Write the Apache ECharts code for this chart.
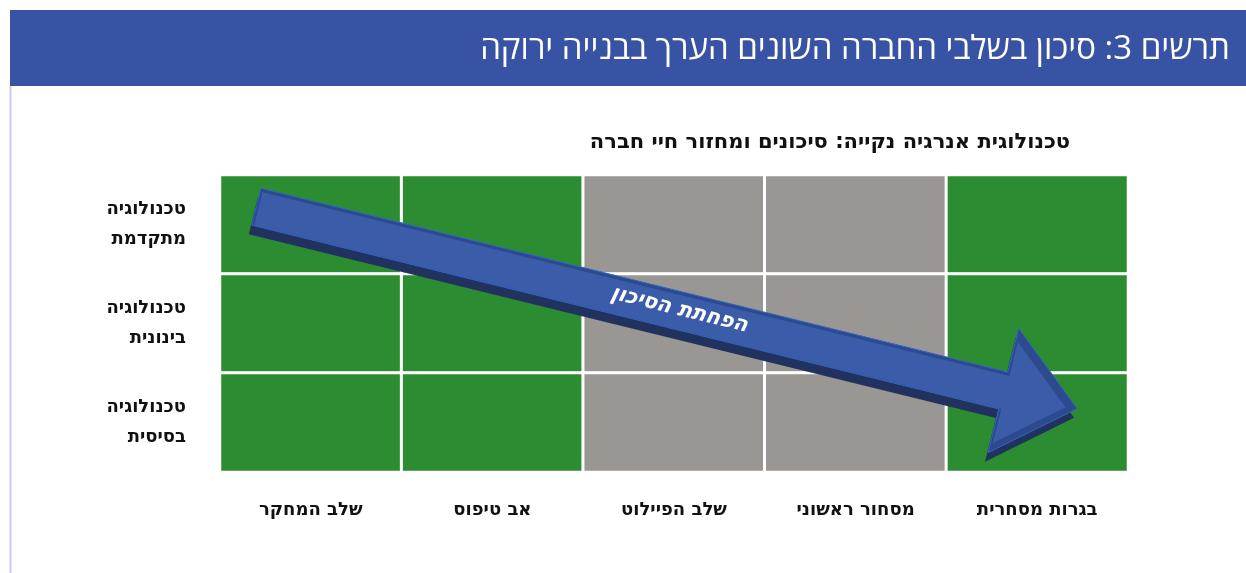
<!DOCTYPE html>
<html lang="he">
<head>
<meta charset="utf-8">
<script src="https://cdn.jsdelivr.net/npm/echarts@6/dist/echarts.min.js"></script>
<style>
html,body{margin:0;padding:0;background:#fff;}
#chart{width:1246px;height:573px;}
</style>
</head>
<body>
<div id="chart"></div>
<script>
// ---- data ----
const chartTitle = 'תרשים 3: סיכון בשלבי החברה השונים הערך בבנייה ירוקה';
const chartSubtitle = 'טכנולוגית אנרגיה נקייה: סיכונים ומחזור חיי חברה';
const stages = ['שלב המחקר', 'אב טיפוס', 'שלב הפיילוט', 'מסחור ראשוני', 'בגרות מסחרית'];
const techLevels = ['טכנולוגיה\nמתקדמת', 'טכנולוגיה\nבינונית', 'טכנולוגיה\nבסיסית'];
// 0 = green cell, 1 = grey cell (per row, per stage)
const rowAdvanced = [0, 0, 1, 1, 0];
const rowMedium   = [0, 0, 1, 1, 0];
const rowBasic    = [0, 0, 1, 1, 0];
const arrowLabel = 'הפחתת הסיכון';
// arrow from / to, in category-index units (x: stage, y: tech level)
const arrowFrom = [-0.30, -0.18];
const arrowTo   = [4.22, 1.86];

const rows = [rowAdvanced, rowMedium, rowBasic];
const cells = [];
rows.forEach((r, yi) => r.forEach((v, xi) => cells.push([xi, yi, v])));

const GREEN = '#2b8c31', GREY = '#9a9694';
const FONT = '"DejaVu Sans", "Liberation Sans", Arial, sans-serif';

const chart = echarts.init(document.getElementById('chart'), null, {renderer: 'canvas'});

function renderArrow(params, api) {
  const c0 = api.coord([0, 0]);
  const c1 = api.coord([1, 1]);
  const at = p => [c0[0] + p[0] * (c1[0] - c0[0]), c0[1] + p[1] * (c1[1] - c0[1])];
  const S = at(arrowFrom), T = at(arrowTo);
  const dx = T[0] - S[0], dy = T[1] - S[1];
  const len = Math.sqrt(dx * dx + dy * dy);
  const u = [dx / len, dy / len];
  const n = [-u[1], u[0]];
  const w = 19, H = 64, L = 76;
  const B = [T[0] - u[0] * L, T[1] - u[1] * L];
  const P = (base, k) => [base[0] + n[0] * k, base[1] + n[1] * k];
  const shape = (off, ww, hh, tipBack) => {
    const Tt = [T[0] - u[0] * tipBack, T[1] - u[1] * tipBack];
    const pts = [P(S, -ww), P(B, -ww), P(B, -hh), Tt, P(B, hh), P(B, ww), P(S, ww)];
    return pts.map(p => [p[0] + off[0], p[1] + off[1]]);
  };
  const mid = [S[0] + dx * 0.515 - n[0] * 1, S[1] + dy * 0.515 - n[1] * 1];
  return {
    type: 'group',
    children: [
      {type: 'polygon', shape: {points: shape([-3, 9], w, H, 0)}, style: {fill: '#22325f'}},
      {type: 'polygon', shape: {points: shape([0, 0], w, H, 0)}, style: {fill: '#2d4a8e', stroke: '#2f66c4', lineWidth: 1}},
      {type: 'polygon', shape: {points: shape([2, 2], w - 2, H - 12, 14)}, style: {fill: '#3b5ca9'}},
      {type: 'text', x: mid[0], y: mid[1], rotation: -Math.atan2(dy, dx),
        style: {text: arrowLabel, fill: '#ffffff', font: 'italic bold 21px ' + FONT, align: 'center', verticalAlign: 'middle'}}
    ]
  };
}

const option = {
  backgroundColor: '#ffffff',
  animation: false,
  graphic: [
    {type: 'rect', shape: {x: 10, y: 10, width: 1236, height: 76}, style: {fill: '#3953a4'}, z: 0},
    {type: 'line', shape: {x1: 10.5, y1: 86, x2: 10.5, y2: 573}, style: {stroke: '#c9cce6', lineWidth: 2}},
    {type: 'text', x: 1230, y: 50, style: {text: chartTitle, fill: '#ffffff', font: '33px "Open Sans", "Liberation Sans", sans-serif', align: 'right', verticalAlign: 'middle'}, z: 5},
    {type: 'text', x: 830, y: 143, style: {text: chartSubtitle, fill: '#111111', font: 'bold 21px ' + FONT, align: 'center', verticalAlign: 'middle'}}
  ],
  grid: {left: 220, right: 118, top: 175, bottom: 101},
  xAxis: {
    type: 'category', data: stages,
    axisLine: {show: false}, axisTick: {show: false}, splitLine: {show: false},
    axisLabel: {margin: 29, color: '#111', fontSize: 18, fontWeight: 'bold', fontFamily: FONT}
  },
  yAxis: {
    type: 'category', data: techLevels, inverse: true,
    axisLine: {show: false}, axisTick: {show: false}, splitLine: {show: false},
    axisLabel: {margin: 34, color: '#111', fontSize: 18, fontWeight: 'bold', fontFamily: FONT, lineHeight: 30, align: 'right'}
  },
  visualMap: {
    type: 'piecewise', show: false, dimension: 2, seriesIndex: 0,
    pieces: [{value: 0, color: GREEN}, {value: 1, color: GREY}]
  },
  series: [
    {
      type: 'heatmap', data: cells,
      itemStyle: {borderColor: '#ffffff', borderWidth: 3},
      label: {show: false}, emphasis: {disabled: true}
    },
    {
      type: 'custom', data: [[0, 0]], renderItem: renderArrow, z: 10, silent: true
    }
  ]
};
chart.setOption(option);
</script>
</body>
</html>
